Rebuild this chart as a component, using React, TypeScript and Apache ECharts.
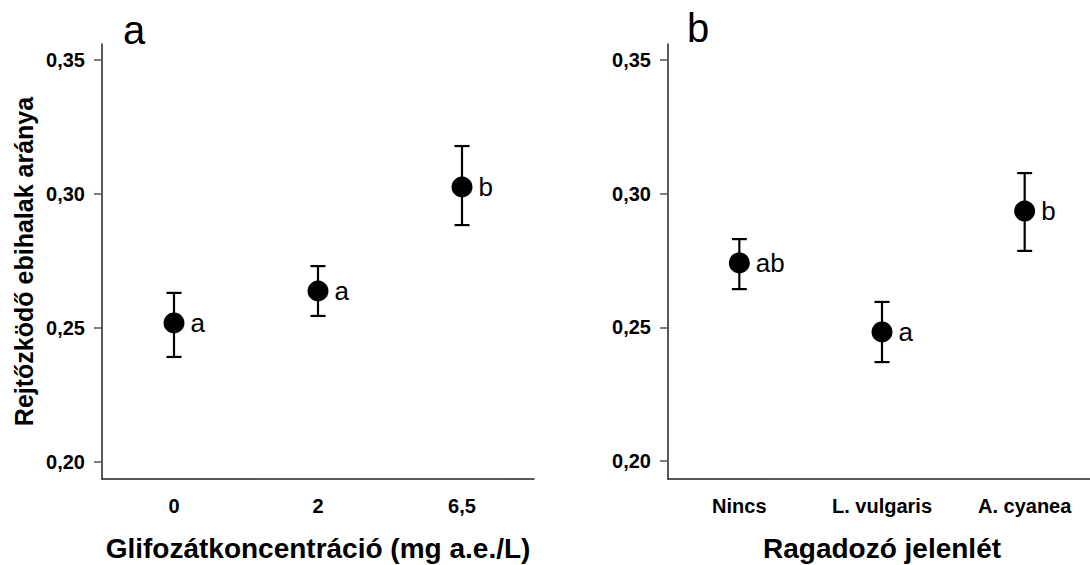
import React, { useEffect, useRef } from "react";
import * as echarts from "echarts";

const catsA = ["0", "2", "6,5"];
const meanA = [0.2519, 0.2638, 0.3026];
const lowA = [0.2392, 0.2545, 0.2884];
const highA = [0.2631, 0.2731, 0.3179];
const lettersA = ["a", "a", "b"];

const catsB = ["Nincs", "L. vulgaris", "A. cyanea"];
const meanB = [0.2741, 0.2483, 0.2935];
const lowB = [0.2643, 0.237, 0.2786];
const highB = [0.283, 0.2595, 0.3077];
const lettersB = ["ab", "a", "b"];

const yTicks = [0.2, 0.25, 0.3, 0.35];

const FONT = "'Liberation Sans', Arial, sans-serif";

function errRender(params: any, api: any) {
  const x = api.value(0);
  const lo = api.coord([x, api.value(1)]);
  const hi = api.coord([x, api.value(2)]);
  const w = 7.5;
  const style = { stroke: "#000", lineWidth: 2.2 };
  return {
    type: "group",
    children: [
      { type: "line", shape: { x1: lo[0], y1: lo[1], x2: hi[0], y2: hi[1] }, style },
      { type: "line", shape: { x1: hi[0] - w, y1: hi[1], x2: hi[0] + w, y2: hi[1] }, style },
      { type: "line", shape: { x1: lo[0] - w, y1: lo[1], x2: lo[0] + w, y2: lo[1] }, style },
    ],
  };
}

function xAxis(idx: number, cats: string[], name: string) {
  return {
    type: "category",
    gridIndex: idx,
    data: cats,
    boundaryGap: true,
    axisLine: { lineStyle: { color: "#222", width: 1.5 } },
    axisTick: { alignWithLabel: true, length: 9, lineStyle: { color: "#555", width: 1.5 } },
    axisLabel: { margin: 17, color: "#000", fontFamily: FONT, fontWeight: "bold", fontSize: 20 },
    name,
    nameLocation: "middle",
    nameGap: 55,
    nameTextStyle: { color: "#000", fontFamily: FONT, fontWeight: "bold", fontSize: 28 },
  };
}

function yAxis(idx: number, min: number, max: number, name?: string) {
  return {
    type: "value",
    gridIndex: idx,
    min,
    max,
    splitLine: { show: false },
    axisLine: { show: true, lineStyle: { color: "#222", width: 1.5 } },
    axisTick: { show: true, length: 8, customValues: yTicks, lineStyle: { color: "#555", width: 1.5 } },
    axisLabel: {
      margin: 17,
      customValues: yTicks,
      color: "#000",
      fontFamily: FONT,
      fontWeight: "bold",
      fontSize: 20,
      formatter: (v: number) => v.toFixed(2).replace(".", ","),
    },
    name: name || "",
    nameLocation: "middle",
    nameRotate: 90,
    nameGap: 66,
    nameTextStyle: { color: "#000", fontFamily: FONT, fontWeight: "bold", fontSize: 25 },
  };
}

function scatter(idx: number, means: number[], letters: string[]) {
  return {
    type: "scatter",
    xAxisIndex: idx,
    yAxisIndex: idx,
    z: 5,
    symbol: "circle",
    symbolSize: 21,
    itemStyle: { color: "#000", opacity: 1 },
    emphasis: { disabled: true },
    data: means.map((m, i) => [i, m]),
    label: {
      show: true,
      position: "right",
      distance: 6,
      color: "#000",
      opacity: 1,
      fontFamily: FONT,
      fontSize: 26,
      formatter: (p: any) => letters[p.dataIndex],
    },
  };
}

function errSeries(idx: number, lows: number[], highs: number[]) {
  return {
    type: "custom",
    xAxisIndex: idx,
    yAxisIndex: idx,
    z: 3,
    renderItem: errRender,
    encode: { x: 0, y: [1, 2] },
    data: lows.map((l, i) => [i, l, highs[i]]),
  };
}

export default function App() {
  const ref = useRef<HTMLDivElement>(null);
  useEffect(() => {
    if (!ref.current) return;
    const chart = echarts.init(ref.current, undefined, { renderer: "svg" });
    chart.setOption({
      animation: false,
      backgroundColor: "#fff",
      grid: [
        { left: 102, top: 44, width: 432, height: 435, containLabel: false, outerBoundsMode: "none" },
        { left: 668, top: 44, width: 428, height: 435, containLabel: false, outerBoundsMode: "none" },
      ],
      xAxis: [
        xAxis(0, catsA, "Glifozátkoncentráció (mg a.e./L)"),
        xAxis(1, catsB, "Ragadozó jelenlét"),
      ],
      yAxis: [
        yAxis(0, 0.193657, 0.35597, "Rejtőzködő ebihalak aránya"),
        yAxis(1, 0.193267, 0.355985),
      ],
      graphic: [
        { type: "text", x: 134, y: 30, style: { text: "a", font: `40px ${FONT}`, fill: "#000", align: "center", verticalAlign: "middle" } },
        { type: "text", x: 698, y: 28, style: { text: "b", font: `40px ${FONT}`, fill: "#000", align: "center", verticalAlign: "middle" } },
      ],
      series: [
        errSeries(0, lowA, highA),
        scatter(0, meanA, lettersA),
        errSeries(1, lowB, highB),
        scatter(1, meanB, lettersB),
      ],
    });
    return () => chart.dispose();
  }, []);
  return (
    <div
      ref={ref}
      style={{ position: "fixed", left: 0, top: 0, width: 1090, height: 565, background: "#fff" }}
    />
  );
}
